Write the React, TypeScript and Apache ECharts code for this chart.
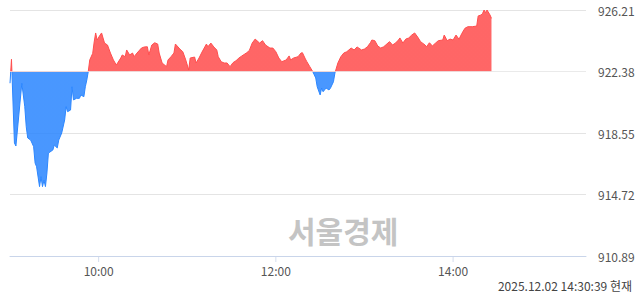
import React, { useEffect, useRef } from "react";
import * as echarts from "echarts";

const prevClose = 922.38;
const yTicks = [910.89, 914.72, 918.55, 922.38, 926.21];
const xTickTimes = ["10:00", "12:00", "14:00"];
const sessionStart = "09:00";
const sessionEnd = "15:30";
const stampText = "2025.12.02 14:30:39 현재";
const watermark = "서울경제";

const priceTicks: [string, number][] = [
  ["09:00", 921.65], ["09:01", 923.14], ["09:03", 917.93], ["09:04", 917.74],
  ["09:08", 921.65], ["09:10", 920.19], ["09:11", 918.94], ["09:12", 918.24],
  ["09:14", 918.11], ["09:16", 917.7], ["09:17", 916.68], ["09:18", 916.45],
  ["09:20", 915.21], ["09:21", 915.83], ["09:22", 915.21], ["09:23", 915.62],
  ["09:24", 915.21], ["09:25", 916.06], ["09:26", 917.3], ["09:29", 917.49],
  ["09:30", 917.8], ["09:32", 917.62], ["09:33", 918.11], ["09:35", 918.55],
  ["09:37", 919.36], ["09:38", 920.19], ["09:39", 919.88], ["09:41", 919.98],
  ["09:42", 921.43], ["09:43", 920.61], ["09:45", 920.71], ["09:47", 920.71],
  ["09:48", 920.92], ["09:50", 920.81], ["09:51", 921.43], ["09:52", 921.85],
  ["09:53", 922.38], ["09:54", 923.1], ["09:56", 923.51], ["09:57", 924.22],
  ["09:58", 924.78], ["09:59", 924.34], ["10:01", 924.65], ["10:02", 924.78],
  ["10:04", 924.15], ["10:06", 924.03], ["10:08", 923.53], ["10:10", 923.1],
  ["10:12", 922.78], ["10:15", 923.22], ["10:16", 923.41], ["10:18", 923.3],
  ["10:19", 923.72], ["10:21", 923.41], ["10:23", 923.53], ["10:24", 923.3],
  ["10:26", 923.53], ["10:29", 923.84], ["10:31", 923.91], ["10:33", 923.92],
  ["10:34", 923.41], ["10:36", 924.03], ["10:38", 924.17], ["10:40", 924.09],
  ["10:41", 923.53], ["10:43", 922.91], ["10:46", 922.68], ["10:47", 923.1],
  ["10:49", 923.3], ["10:51", 923.53], ["10:52", 924.09], ["10:55", 923.78],
  ["10:57", 923.61], ["10:59", 923.1], ["11:01", 922.47], ["11:02", 923.22],
  ["11:05", 923.28], ["11:06", 922.91], ["11:08", 923.22], ["11:10", 923.59],
  ["11:13", 924.09], ["11:14", 923.92], ["11:16", 924.15], ["11:18", 923.91],
  ["11:20", 923.72], ["11:21", 923.3], ["11:23", 922.99], ["11:25", 922.91],
  ["11:27", 922.91], ["11:29", 922.68], ["11:31", 922.93], ["11:33", 923.05],
  ["11:35", 923.22], ["11:37", 923.35], ["11:40", 923.53], ["11:42", 923.68],
  ["11:44", 924.15], ["11:46", 924.4], ["11:49", 924.15], ["11:51", 924.3],
  ["11:53", 924.03], ["11:56", 923.84], ["11:58", 923.84], ["12:00", 923.61],
  ["12:02", 923.22], ["12:04", 922.99], ["12:07", 923.1], ["12:09", 923.35],
  ["12:10", 923.1], ["12:12", 923.22], ["12:15", 923.3], ["12:17", 923.53],
  ["12:18", 923.55], ["12:20", 923.16], ["12:21", 922.99], ["12:23", 922.68],
  ["12:25", 922.37], ["12:27", 921.98], ["12:28", 921.43], ["12:30", 920.92],
  ["12:31", 921.35], ["12:32", 921.12], ["12:34", 921.35], ["12:36", 921.23],
  ["12:37", 921.35], ["12:39", 921.74], ["12:40", 922.29], ["12:42", 922.91],
  ["12:44", 923.3], ["12:46", 923.53], ["12:48", 923.61], ["12:51", 923.84],
  ["12:53", 923.72], ["12:55", 923.91], ["12:58", 923.72], ["13:00", 923.78],
  ["13:02", 923.92], ["13:04", 924.17], ["13:05", 924.34], ["13:07", 924.3],
  ["13:09", 923.97], ["13:11", 923.84], ["13:13", 923.92], ["13:17", 924.24],
  ["13:19", 924.03], ["13:21", 924.15], ["13:23", 924.34], ["13:24", 924.47],
  ["13:26", 924.15], ["13:28", 924.4], ["13:30", 924.47], ["13:32", 924.65],
  ["13:34", 924.78], ["13:36", 924.53], ["13:38", 924.24], ["13:41", 924.03],
  ["13:42", 923.92], ["13:44", 924.17], ["13:46", 923.97], ["13:48", 924.14],
  ["13:50", 924.3], ["13:53", 924.34], ["13:54", 924.65], ["13:56", 924.3],
  ["13:58", 924.4], ["14:00", 924.34], ["14:02", 924.65], ["14:04", 924.39],
  ["14:06", 924.76], ["14:08", 925.07], ["14:10", 925.17], ["14:13", 925.17],
  ["14:16", 925.21], ["14:17", 925.84], ["14:19", 925.9], ["14:20", 926.0],
  ["14:21", 926.21], ["14:22", 926.04], ["14:23", 926.21], ["14:25", 925.9],
  ["14:26", 925.69],
];

const toMin = (t: string) => {
  const [h, m] = t.split(":").map(Number);
  return h * 60 + m;
};

export default function App() {
  const ref = useRef<HTMLDivElement>(null);
  useEffect(() => {
    if (!ref.current) return;
    const chart = echarts.init(ref.current, undefined, { renderer: "svg" });
    const start = toMin(sessionStart);
    const xMax = toMin(sessionEnd) - start;
    const yMin = yTicks[0];
    const yMax = yTicks[yTicks.length - 1];
    const step = +(yTicks[1] - yTicks[0]).toFixed(2);
    const base = +(prevClose - yMin).toFixed(2);
    const data = priceTicks.map(([t, v]) => [toMin(t) - start, +(v - yMin).toFixed(2)]);
    const tickXs = xTickTimes.map((t) => toMin(t) - start);
    const pad = (n: number) => String(n).padStart(2, "0");
    const fmtTime = (v: number) => {
      const r = Math.round(v);
      if (!tickXs.includes(r)) return "";
      const m = r + start;
      return pad(Math.floor(m / 60)) + ":" + pad(m % 60);
    };
    chart.setOption({
      animation: false,
      grid: { left: 10, right: 54, top: 10, bottom: 38 },
      xAxis: {
        type: "value",
        min: 0,
        max: xMax,
        interval: 60,
        axisLine: { show: true, onZero: false, lineStyle: { color: "#c9d5ea", width: 1 } },
        axisTick: { show: false },
        axisLabel: {
          showMinLabel: false,
          showMaxLabel: false,
          formatter: (v: number) => fmtTime(v),
          color: "#555",
          fontSize: 12,
          fontFamily: "Noto Sans CJK KR, sans-serif",
          margin: 8,
        },
        splitLine: { show: false },
      },
      yAxis: {
        type: "value",
        position: "right",
        min: 0,
        max: +(yMax - yMin).toFixed(2),
        interval: step,
        axisLine: { show: false },
        axisTick: { show: false },
        axisLabel: {
          formatter: (v: number) => (v + yMin).toFixed(2),
          color: "#555",
          fontSize: 12,
          fontFamily: "Noto Sans CJK KR, sans-serif",
          margin: 12,
          align: "left",
        },
        splitLine: { show: true, lineStyle: { color: "#e4e4e4", width: 1 } },
      },
      visualMap: {
        show: false,
        type: "piecewise",
        dimension: 1,
        seriesIndex: 0,
        pieces: [
          { gt: base, lte: 1000, color: "#ff4d4d" },
          { gt: -1000, lte: base, color: "#2b86ff" },
        ],
      },
      series: [
        {
          type: "line",
          data,
          showSymbol: false,
          symbol: "none",
          lineStyle: { width: 1 },
          areaStyle: { origin: base, opacity: 0.86 },
          markLine: {
            silent: true,
            symbol: "none",
            label: { show: false },
            lineStyle: { color: "rgba(236,236,236,0.7)", type: "solid", width: 1 },
            data: [{ yAxis: base }],
          },
        },
        {
          type: "scatter",
          silent: true,
          clip: false,
          symbol: "rect",
          symbolSize: [1, 6],
          symbolOffset: [0, 3],
          itemStyle: { color: "#c9d5ea" },
          data: tickXs.map((x) => [x, 0]),
          z: 1,
        },
      ],
      graphic: [
        {
          type: "text",
          left: 288,
          top: 215,
          style: {
            text: watermark,
            fontSize: 30,
            fontWeight: "bold",
            fill: "#c4c4c4",
            fontFamily: "Noto Sans CJK KR, sans-serif",
          },
        },
        {
          type: "text",
          right: 8,
          top: 279,
          style: {
            text: stampText,
            fontSize: 12,
            fill: "#444",
            fontFamily: "Noto Sans CJK KR, sans-serif",
          },
        },
      ],
    });
    return () => chart.dispose();
  }, []);
  return <div ref={ref} style={{ width: 640, height: 294, position: "absolute", left: 0, top: 0 }} />;
}
